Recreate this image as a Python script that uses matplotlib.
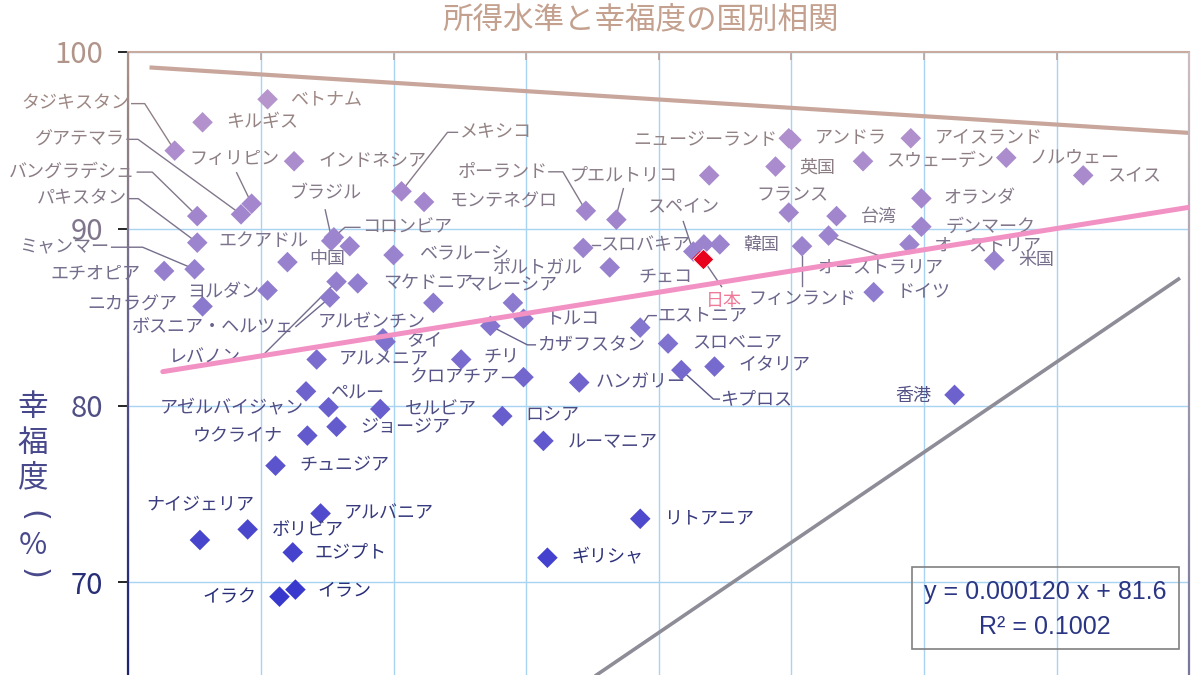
import numpy as np
import matplotlib
matplotlib.use('Agg')
import matplotlib.pyplot as plt
from matplotlib.collections import LineCollection
from matplotlib.patches import Rectangle

plt.rcParams['font.family'] = ['Noto Sans CJK JP', 'DejaVu Sans']

# data: income per capita (x) and happiness % (y)
countries = [
    'ベトナム', 'キルギス', 'タジキスタン', 'インドネシア', 'フィリピン', 'グアテマラ',
    'バングラデシュ', 'パキスタン', 'ミャンマー', 'エチオピア', 'エクアドル', '中国',
    'ヨルダン', 'ニカラグア', 'ボスニア・ヘルツェ', 'レバノン', 'ブラジル', 'コロンビア',
    'メキシコ', 'モンテネグロ', 'ベラルーシ', 'マケドニア', 'マレーシア', 'ポルトガル',
    'トルコ', 'アルゼンチン', 'タイ', 'アルメニア', 'チリ', 'クロアチア',
    'カザフスタン', 'エストニア', 'スロベニア', 'イタリア', 'キプロス', 'ハンガリー',
    'ロシア', 'ルーマニア', 'リトアニア', 'ギリシャ', 'ペルー', 'アゼルバイジャン',
    'セルビア', 'ジョージア', 'ウクライナ', 'チュニジア', 'ナイジェリア', 'ボリビア',
    'アルバニア', 'エジプト', 'イラン', 'イラク', '香港', 'ポーランド',
    'プエルトリコ', 'スロバキア', 'チェコ', 'スペイン', '日本', '韓国',
    'ニュージーランド', 'アンドラ', 'アイスランド', '英国', 'スウェーデン', 'ノルウェー',
    'スイス', 'フランス', '台湾', 'オランダ', 'デンマーク', 'オーストリア',
    '米国', 'ドイツ', 'オーストラリア', 'フィンランド',
]
income = [
    10500, 5600, 3500, 12500, 9300, 8500,
    5200, 5200, 5000, 2700, 12000, 16700,
    10500, 5600, 15200, 15700, 15300, 15500,
    20600, 22300, 20000, 17300, 23000, 29000,
    29800, 19200, 19400, 14200, 25100, 29800,
    27300, 38600, 40700, 44200, 41700, 34000,
    28200, 31300, 38600, 31600, 13400, 15100,
    19000, 15700, 13500, 11100, 5400, 9000,
    14500, 12400, 12600, 11400, 62300, 34500,
    36800, 34300, 36300, 42600, 43300, 44600,
    49800, 50000, 59000, 48800, 55400, 66200,
    72000, 49800, 53400, 59800, 59800, 58900,
    65300, 56200, 52800, 50800,
]
happiness = [
    97.3, 96.0, 94.4, 93.8, 91.4, 90.8,
    90.7, 89.2, 87.7, 87.6, 88.1, 89.0,
    86.5, 85.6, 86.1, 87.0, 89.3, 89.5,
    92.1, 91.5, 88.5, 86.9, 85.8, 85.8,
    84.9, 83.8, 83.6, 82.6, 82.6, 81.6,
    84.5, 84.4, 83.5, 82.2, 82.0, 81.3,
    79.4, 78.0, 73.6, 71.4, 80.8, 79.9,
    79.8, 78.8, 78.3, 76.6, 72.4, 73.0,
    73.9, 71.7, 69.6, 69.2, 80.6, 91.0,
    90.5, 88.9, 87.8, 88.7, 88.3, 89.1,
    95.1, 95.0, 95.1, 93.5, 93.8, 94.0,
    93.0, 90.9, 90.7, 91.7, 90.1, 89.1,
    88.2, 86.4, 89.6, 89.0,
]
# points shown without a label
unlabeled_income = [43800, 43400]
unlabeled_happiness = [93.0, 89.1]

# trend line from the equation box
slope, intercept, r2 = 0.000120, 81.6, 0.1002
fit_x = [2600, 80000]
# the two other straight lines
upper_x = [1600, 80000]
upper_y = [99.1, 95.4]
gray_x = [33000, 79300]
gray_y = [63.6, 87.2]

title = '所得水準と幸福度の国別相関'
ylabel_chars = ['幸', '福', '度', '(', '%', ')']
yticks = [70, 80, 90, 100]

# label placement: pixel offset from the point (dx right, dy down), alignment
LABEL_POS = {
    'ベトナム': (22, 0, 'left'), 'キルギス': (23, 0, 'left'),
    'タジキスタン': (-45, -47, 'right'), 'インドネシア': (24, 0, 'left'),
    'フィリピン': (-17, -45, 'center'), 'グアテマラ': (-116, -75, 'right'),
    'バングラデシュ': (-62, -44, 'right'), 'パキスタン': (-70, -44, 'right'),
    'ミャンマー': (-85, -22, 'right'), 'エチオピア': (-24, 2, 'right'),
    'エクアドル': (-24, -21, 'center'), '中国': (-5, 13, 'right'),
    'ヨルダン': (-8, 2, 'right'), 'ニカラグア': (-25, -2, 'right'),
    'ボスニア・ヘルツェ': (-36, 29, 'right'), 'レバノン': (-96, 76, 'right'),
    'ブラジル': (-6, -48, 'center'), 'コロンビア': (28, -10, 'left'),
    'メキシコ': (58, -59, 'left'), 'モンテネグロ': (26, 0, 'left'),
    'ベラルーシ': (25, -1, 'left'), 'マケドニア': (25, 0, 'left'),
    'マレーシア': (34, -18, 'left'), 'ポルトガル': (25, -35, 'center'),
    'トルコ': (22, 0, 'left'), 'アルゼンチン': (-11, -16, 'center'),
    'タイ': (21, -1, 'left'), 'アルメニア': (22, 0, 'left'),
    'チリ': (22, -2, 'left'), 'クロアチア': (-24, 0, 'right'),
    'カザフスタン': (47, 19, 'left'), 'エストニア': (17, -12, 'left'),
    'スロベニア': (24, -1, 'left'), 'イタリア': (24, -1, 'left'),
    'キプロス': (39, 29, 'left'), 'ハンガリー': (16, 0, 'left'),
    'ロシア': (23, -1, 'left'), 'ルーマニア': (24, 1, 'left'),
    'リトアニア': (24, 0, 'left'), 'ギリシャ': (24, 0, 'left'),
    'ペルー': (24, 1, 'left'), 'アゼルバイジャン': (-25, 0, 'right'),
    'セルビア': (25, 0, 'left'), 'ジョージア': (24, 0, 'left'),
    'ウクライナ': (-25, 1, 'right'), 'チュニジア': (24, 0, 'left'),
    'ナイジェリア': (0, -36, 'center'), 'ボリビア': (24, 1, 'left'),
    'アルバニア': (23, 0, 'left'), 'エジプト': (22, 0, 'left'),
    'イラン': (22, 1, 'left'), 'イラク': (-23, 1, 'right'),
    '香港': (-23, 1, 'right'), 'ポーランド': (-38, -39, 'right'),
    'プエルトリコ': (7, -44, 'center'), 'スロバキア': (17, -3, 'left'),
    'チェコ': (29, 10, 'left'), 'スペイン': (-10, -45, 'center'),
    '日本': (3, 42, 'left'), '韓国': (23, 1, 'left'),
    'ニュージーランド': (-11, 2, 'right'), 'アンドラ': (23, -2, 'left'),
    'アイスランド': (24, 0, 'left'), '英国': (24, 1, 'left'),
    'スウェーデン': (23, 0, 'left'), 'ノルウェー': (23, 0, 'left'),
    'スイス': (24, 0, 'left'), 'フランス': (4, -17, 'center'),
    '台湾': (24, 1, 'left'), 'オランダ': (22, 0, 'left'),
    'デンマーク': (24, 0, 'left'), 'オーストリア': (24, 1, 'left'),
    '米国': (24, 0, 'left'), 'ドイツ': (23, 0, 'left'),
    'オーストラリア': (-11, 32, 'left'), 'フィンランド': (0, 53, 'center'),
}
# leader lines, pixel offsets from the point
LEADERS = {
    'タジキスタン': [(-43, -47), (-30, -47), (0, 0)],
    'フィリピン': [(-15, -31), (0, 0)],
    'グアテマラ': [(-114, -75), (-103, -75), (0, 0)],
    'バングラデシュ': [(-60, -44), (-45, -44), (0, 0)],
    'パキスタン': [(-68, -44), (-59, -44), (0, 0)],
    'ミャンマー': [(-83, -22), (-52, -22), (0, 0)],
    'ボスニア・ヘルツェ': [(-34, 29), (0, 0)],
    'レバノン': [(-74, 74), (0, 0)],
    'ブラジル': [(-6, -31), (0, -4)],
    'コロンビア': [(26, -10), (11, -10), (2, -2)],
    'メキシコ': [(56, -59), (46, -59), (0, 0)],
    'クロアチア': [(-22, 0), (0, 0)],
    'カザフスタン': [(0, 0), (37, 19), (45, 19)],
    'エストニア': [(0, 0), (8, -12), (16, -12)],
    'キプロス': [(0, 0), (32, 29), (38, 29)],
    'ポーランド': [(-37, -39), (-23, -39), (0, 0)],
    'プエルトリコ': [(7, -31), (0, -4)],
    'スロバキア': [(9, -3), (17, -3)],
    'スペイン': [(-10, -30), (0, 0)],
    '日本': [(19, 28), (0, 0)],
    'オーストラリア': [(0, 0), (50, 20)],
    'フィンランド': [(0, 10), (0, 40)],
}

TEXT_Y = [65, 70, 78, 84, 90, 96, 101]
TEXT_RGB = [(30, 36, 110), (40, 46, 120), (70, 70, 130), (100, 96, 140),
            (128, 118, 140), (150, 132, 130), (184, 152, 140)]
MARK_Y = [69, 74, 80, 84, 88, 92, 98]
MARK_RGB = [(55, 55, 205), (80, 75, 205), (105, 95, 205), (130, 115, 206),
            (152, 130, 206), (165, 135, 205), (184, 150, 204)]


def grad(y, ys, rgbs):
    return tuple(np.interp(y, ys, [c[i] for c in rgbs]) / 255 for i in range(3))


fig = plt.figure(figsize=(12, 6.75), dpi=100)
ax = fig.add_axes([128.3 / 1200, 0, 1061 / 1200, 623.5 / 675])
ax.set_xlim(0, 80000)
ax.set_ylim(100 - 623.5 / 17.7, 100)


def shifted(x, y, dx, dy):
    px, py = ax.transData.transform((x, y))
    return ax.transData.inverted().transform((px + dx, py - dy))


# grid and frame
ax.set_xticks(range(0, 80001, 10000))
ax.set_yticks(yticks)
ax.grid(True, color='#a8d4f2', lw=1.0, zorder=0)
ax.set_axisbelow(True)
ax.tick_params(axis='x', top=True, bottom=False, direction='in', length=6,
               width=1.2, color='#bca29a', labeltop=False, labelbottom=False)
ax.tick_params(axis='y', direction='out', length=7, width=1.2, pad=11,
               labelsize=21)
for t, v in zip(ax.yaxis.get_major_ticks(), yticks):
    t.tick1line.set_color(grad(v, TEXT_Y, TEXT_RGB))
    t.label1.set_color(grad(v, TEXT_Y, TEXT_RGB))
for s in ['left', 'right', 'bottom']:
    ax.spines[s].set_visible(False)
ax.spines['top'].set_color('#c8aa9e')
ax.spines['top'].set_linewidth(1.5)

ys = np.linspace(ax.get_ylim()[0], 100, 80)
segs = [[(0, ys[i]), (0, ys[i + 1])] for i in range(len(ys) - 1)]
ax.add_collection(LineCollection(segs, colors=[grad(v, TEXT_Y, TEXT_RGB) for v in ys[:-1]],
                                 lw=1.6, zorder=5, clip_on=False))
segs_r = [[(80000, ys[i]), (80000, ys[i + 1])] for i in range(len(ys) - 1)]
right_cols = [tuple(np.interp(v, [65, 100], [a, b]) / 255 for a, b in
                    zip((120, 120, 155), (205, 190, 192))) for v in ys[:-1]]
ax.add_collection(LineCollection(segs_r, colors=right_cols, lw=1.6, zorder=5, clip_on=False))

# lines
ax.plot(upper_x, upper_y, color='#c8a69c', lw=3, solid_capstyle='butt', zorder=2)
ax.plot(gray_x, gray_y, color='#8e8c96', lw=2.6, solid_capstyle='butt', zorder=2)
fit_y = [slope * v + intercept for v in fit_x]
ax.plot(fit_x, fit_y, color='#f291c4', lw=3.6, solid_capstyle='round', zorder=6)

# leader lines
for name, pts in LEADERS.items():
    i = countries.index(name)
    xy = np.array([shifted(income[i], happiness[i], dx, dy) for dx, dy in pts])
    ax.plot(xy[:, 0], xy[:, 1], color=grad(happiness[i], TEXT_Y, TEXT_RGB),
            lw=1.0, zorder=2, clip_on=False)

# points
colors = []
for name, v in zip(countries, happiness):
    colors.append('#e8001c' if name == '日本' else grad(v, MARK_Y, MARK_RGB))
ax.scatter(income, happiness, marker='D', s=110, c=colors, edgecolors='none', zorder=3)
ax.scatter(unlabeled_income, unlabeled_happiness, marker='D', s=110,
           c=[grad(v, MARK_Y, MARK_RGB) for v in unlabeled_happiness],
           edgecolors='none', zorder=3)
j = countries.index('日本')
ax.scatter([income[j]], [happiness[j]], marker='D', s=110, c='#e8001c',
           edgecolors='white', linewidths=0.6, zorder=4)

# labels
for name, x, y in zip(countries, income, happiness):
    dx, dy, ha = LABEL_POS[name]
    lx, ly = shifted(x, y, dx, dy)
    col = '#f07898' if name == '日本' else grad(ly, TEXT_Y, TEXT_RGB)
    ax.text(lx, ly, name, ha=ha, va='center', fontsize=13, color=col, zorder=4)

# equation box
fig.add_artist(Rectangle((911.7 / 1200, 1 - 649.3 / 675), 267.6 / 1200, 82.6 / 675,
                         transform=fig.transFigure, fill=False, ec='#808080', lw=1.2))
fig.text(1045 / 1200, 1 - 592 / 675, f'y = {slope:.6f} x + {intercept}',
         ha='center', va='center', fontsize=18, color='#2a3684', family='Liberation Sans')
fig.text(1045 / 1200, 1 - 627 / 675, f'R² = {r2:.4f}',
         ha='center', va='center', fontsize=18, color='#2a3684', family='Liberation Sans')

# title and vertical y label (brackets turned for vertical writing)
fig.text(641 / 1200, 1 - 20 / 675, title, ha='center', va='center', fontsize=22,
         color='#c4a08e')
for ch, py in zip(ylabel_chars, [407, 443, 478, 516, 545, 574]):
    rot = -90 if ch in '()' else 0
    fig.text(33 / 1200, 1 - py / 675, ch, ha='center', va='center', fontsize=22,
             color='#48488c', rotation=rot, family='DejaVu Sans' if rot else None)

fig.savefig('out.png', dpi=100)
